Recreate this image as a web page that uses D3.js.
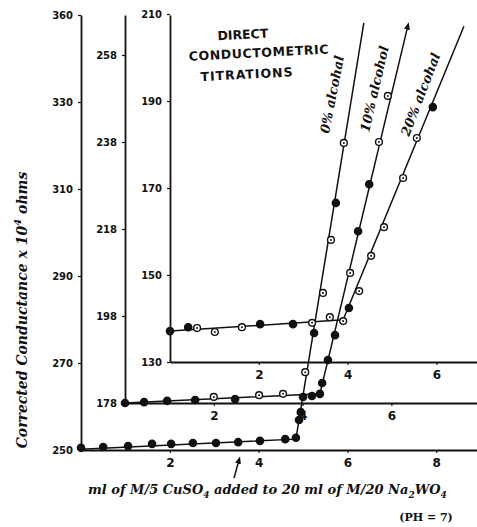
<!DOCTYPE html>
<html>
<head>
<meta charset="utf-8">
<script src="https://cdn.jsdelivr.net/npm/d3@7"></script>
<style>
  body { margin: 0; background: #fff; }
  svg { display: block; }
  .tick text { font-family: "DejaVu Sans", sans-serif; font-weight: bold; fill: #111; }
</style>
</head>
<body>
<svg id="chart" width="477" height="527"></svg>
<script>
// ---- data ----
// 0% alcohol (outer axes, base 250)
const pts0x = [0, 0.5, 1.06, 1.6, 2.03, 2.52, 3.04, 3.54, 4.03, 4.6, 4.84, 4.91, 4.95, 5.0, 5.05, 5.25, 5.45, 5.63, 5.74, 5.92];
const pts0y = [250.5, 250.7, 250.9, 251.4, 251.4, 251.6, 251.6, 251.8, 252.1, 252.5, 252.8, 256.9, 258.7, 262.2, 267.9, 276.9, 286.1, 298.3, 306.8, 320.6];
const mk0 = "fffffffffff" + "fffofoofo";
const line0 = [[0, 250.2], [4.84, 252.5], [6.37, 348.2]];

// 10% alcohol (middle axes, base 178)
const pts10x = [0, 0.43, 0.95, 1.58, 2.0, 2.48, 3.02, 3.56, 4.21, 4.39, 4.44, 4.57, 4.73, 5.07, 5.25, 5.5, 5.72, 5.92];
const pts10y = [178, 178.2, 178.5, 178.7, 179.4, 178.9, 179.8, 180.1, 179.6, 180.1, 182.6, 187.9, 193.6, 207.9, 217.5, 228.3, 238.0, 248.6];
const mk10 = "ffffofooff" + "fffoffoo";
const line10 = [[0, 178], [4.39, 180.1], [6.37, 264.7]];

// 20% alcohol (inner axes, base 130)
const pts20x = [0, 0.41, 0.61, 1.01, 1.62, 2.03, 2.77, 3.2, 3.6, 3.9, 4.03, 4.26, 4.53, 4.82, 5.25, 5.56, 5.92];
const pts20y = [137.1, 138.0, 137.8, 136.9, 138.0, 138.7, 138.7, 139.0, 140.3, 139.4, 142.4, 146.3, 154.4, 161.0, 172.3, 181.5, 188.6];
const mk20 = "ffoooffooo" + "fooooof";
const line20 = [[0, 137.1], [3.9, 139.7], [6.62, 207.2]];

// tick values and the hand-written labels
const yTicks0 = [250, 270, 290, 310, 330, 350];
const yLabels0 = ["250", "270", "290", "310", "330", "360"];
const yTicks10 = [178, 198, 218, 238, 258];
const yTicks20 = [130, 150, 170, 190, 210];
const xTicks0 = [2, 4, 6, 8];
const xTicks10 = [2, 4, 6];
const xTicks20 = [2, 4, 6];

// ---- layout ----
const svg = d3.select("#chart");
const unitX = 44.4;   // px per ml
const unitY = 4.35;   // px per conductance unit

// each panel: axis origin and extent
const panels = [
  { x0: 81,  y0: 450, yMin: 250, xs: pts0x,  ys: pts0y,  mk: mk0,  fit: line0,  yt: yTicks0,  yl: yLabels0, xt: xTicks0 },
  { x0: 125, y0: 403, yMin: 178, xs: pts10x, ys: pts10y, mk: mk10, fit: line10, yt: yTicks10, yl: null, xt: xTicks10 },
  { x0: 170, y0: 362, yMin: 130, xs: pts20x, ys: pts20y, mk: mk20, fit: line20, yt: yTicks20, yl: null, xt: xTicks20 }
];

svg.append("defs").append("marker")
  .attr("id", "arr").attr("viewBox", "0 0 10 10")
  .attr("refX", 5).attr("refY", 5)
  .attr("markerWidth", 5).attr("markerHeight", 5)
  .attr("orient", "auto")
  .append("path").attr("d", "M0,1 L10,5 L0,9 Z").attr("fill", "#111");

panels.forEach(function (p, i) {
  const yTop = 15;
  const xMaxPx = 480;
  const x = d3.scaleLinear().domain([0, (xMaxPx - p.x0) / unitX]).range([p.x0, xMaxPx]);
  const y = d3.scaleLinear().domain([p.yMin, p.yMin + (p.y0 - yTop) / unitY]).range([p.y0, yTop]);

  // y axis
  const ya = svg.append("g").attr("transform", `translate(${p.x0},0)`)
    .call(d3.axisLeft(y).tickValues(p.yt).tickSize(3).tickSizeOuter(0).tickPadding(5)
      .tickFormat((d, k) => p.yl ? p.yl[k] : d));
  ya.select(".domain").attr("stroke", "#111").attr("stroke-width", 1.8);
  ya.selectAll(".tick line").attr("stroke", "#111").attr("stroke-width", 1.2);
  ya.selectAll(".tick text").attr("font-size", 10);

  // x axis
  const xa = svg.append("g").attr("transform", `translate(0,${p.y0})`)
    .call(d3.axisBottom(x).tickValues(p.xt).tickSize(3).tickSizeOuter(0).tickPadding(5).tickFormat(d3.format("d")));
  xa.select(".domain").attr("stroke", "#111").attr("stroke-width", 1.8);
  xa.selectAll(".tick line").attr("stroke", "#111").attr("stroke-width", 1.2);
  xa.selectAll(".tick text").attr("font-size", 12);

  // fitted line
  const ln = d3.line().x(d => x(d[0])).y(d => y(d[1]));
  const path = svg.append("path").datum(p.fit)
    .attr("d", ln).attr("fill", "none")
    .attr("stroke", "#111").attr("stroke-width", 1.5);
  if (i === 1) path.attr("marker-end", "url(#arr)");

  // points
  const pts = p.xs.map((v, k) => ({ x: v, y: p.ys[k], t: p.mk[k] }));
  const g = svg.append("g");
  g.selectAll("circle.pt").data(pts).join("circle")
    .attr("class", "pt")
    .attr("cx", d => x(d.x)).attr("cy", d => y(d.y))
    .attr("r", d => d.t === "f" ? 3.6 : 3.4)
    .attr("fill", d => d.t === "f" ? "#111" : "#fff")
    .attr("stroke", "#111").attr("stroke-width", 1.4);
  g.selectAll("circle.ctr").data(pts.filter(d => d.t === "o")).join("circle")
    .attr("class", "ctr")
    .attr("cx", d => x(d.x)).attr("cy", d => y(d.y))
    .attr("r", 1).attr("fill", "#111");
});

// ---- text ----
const hand = "'DejaVu Serif', serif";
const title = svg.append("text")
  .attr("font-family", "'DejaVu Sans', sans-serif").attr("font-weight", "bold")
  .attr("font-size", 12.5).attr("fill", "#111")
  .attr("transform", "rotate(-3 260 55)");
[["DIRECT", 244, 38, 0], ["CONDUCTOMETRIC", 259, 57, 0.6], ["TITRATIONS", 246, 78, 1]].forEach(function (t) {
  title.append("tspan").attr("x", t[1]).attr("y", t[2]).attr("text-anchor", "middle")
    .attr("letter-spacing", t[3]).text(t[0]);
});

const seriesLabels = [
  { text: "0% alcohal", x: 329, y: 134, a: -79 },
  { text: "10% alcohol", x: 369, y: 133, a: -77 },
  { text: "20% alcohal", x: 409, y: 137, a: -69 }
];
svg.selectAll("text.slab").data(seriesLabels).join("text")
  .attr("class", "slab")
  .attr("transform", d => `translate(${d.x},${d.y}) rotate(${d.a})`)
  .attr("font-family", hand).attr("font-style", "italic").attr("font-weight", "bold")
  .attr("font-size", 13).attr("fill", "#111")
  .text(d => d.text);

// y axis title
const yt = svg.append("text")
  .attr("transform", "translate(27,310) rotate(-90)")
  .attr("text-anchor", "middle")
  .attr("font-family", hand).attr("font-style", "italic").attr("font-weight", "bold")
  .attr("font-size", 14).attr("fill", "#111");
yt.append("tspan").text("Corrected Conductance x 10");
yt.append("tspan").attr("dy", -6).attr("font-size", 10).text("4");
yt.append("tspan").attr("dy", 6).text(" ohms");

// x axis title
const xt = svg.append("text")
  .attr("x", 88).attr("y", 494)
  .attr("font-family", hand).attr("font-style", "italic").attr("font-weight", "bold")
  .attr("font-size", 13).attr("fill", "#111");
xt.append("tspan").text("ml of M/5 CuSO");
xt.append("tspan").attr("dy", 4).attr("font-size", 9).text("4");
xt.append("tspan").attr("dy", -4).text(" added to 20 ml of M/20 Na");
xt.append("tspan").attr("dy", 4).attr("font-size", 9).text("2");
xt.append("tspan").attr("dy", -4).text("WO");
xt.append("tspan").attr("dy", 4).attr("font-size", 9).text("4");

svg.append("text")
  .attr("x", 426).attr("y", 521).attr("text-anchor", "middle")
  .attr("font-family", hand).attr("font-weight", "bold")
  .attr("font-size", 11).attr("fill", "#111")
  .text("(PH = 7)");

// small pointer under the axis
svg.append("path").attr("d", "M234,478 L239,460")
  .attr("stroke", "#111").attr("stroke-width", 1.5)
  .attr("marker-end", "url(#arr)");
</script>
</body>
</html>
